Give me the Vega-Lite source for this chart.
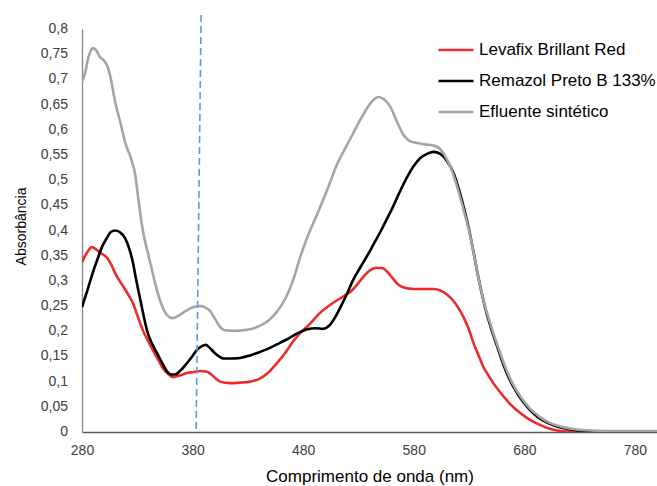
{
  "$schema": "https://vega.github.io/schema/vega-lite/v6.json",
  "width": 575,
  "height": 403,
  "autosize": "none",
  "padding": {"left": 82, "top": 29, "right": 0, "bottom": 54},
  "background": "white",
  "config": {"view": {"stroke": null}, "font": "Liberation Sans", "axis": {"labelOverlap": false}},
  "datasets": {
    "guide": [{"wl_top": 387.7, "wl_bottom": 383.2, "a_top": 0.828, "a_bottom": 0}],
    "ticksY": [{"v": 0}, {"v": 0.05}, {"v": 0.1}, {"v": 0.15}, {"v": 0.2}, {"v": 0.25}, {"v": 0.3}, {"v": 0.35}, {"v": 0.4}, {"v": 0.45}, {"v": 0.5}, {"v": 0.55}, {"v": 0.6}, {"v": 0.65}, {"v": 0.7}, {"v": 0.75}, {"v": 0.8}],
    "spectra": [
      {"serie": "Levafix Brillant Red", "wl": 280, "abs": 0.337},
      {"serie": "Levafix Brillant Red", "wl": 285, "abs": 0.358},
      {"serie": "Levafix Brillant Red", "wl": 289, "abs": 0.367},
      {"serie": "Levafix Brillant Red", "wl": 293, "abs": 0.362},
      {"serie": "Levafix Brillant Red", "wl": 297, "abs": 0.355},
      {"serie": "Levafix Brillant Red", "wl": 303, "abs": 0.345},
      {"serie": "Levafix Brillant Red", "wl": 307, "abs": 0.33},
      {"serie": "Levafix Brillant Red", "wl": 310, "abs": 0.315},
      {"serie": "Levafix Brillant Red", "wl": 317, "abs": 0.29},
      {"serie": "Levafix Brillant Red", "wl": 322, "abs": 0.272},
      {"serie": "Levafix Brillant Red", "wl": 326, "abs": 0.256},
      {"serie": "Levafix Brillant Red", "wl": 330, "abs": 0.232},
      {"serie": "Levafix Brillant Red", "wl": 335, "abs": 0.202},
      {"serie": "Levafix Brillant Red", "wl": 340, "abs": 0.18},
      {"serie": "Levafix Brillant Red", "wl": 344, "abs": 0.163},
      {"serie": "Levafix Brillant Red", "wl": 349, "abs": 0.143},
      {"serie": "Levafix Brillant Red", "wl": 353, "abs": 0.127},
      {"serie": "Levafix Brillant Red", "wl": 358, "abs": 0.115},
      {"serie": "Levafix Brillant Red", "wl": 362, "abs": 0.109},
      {"serie": "Levafix Brillant Red", "wl": 368, "abs": 0.112},
      {"serie": "Levafix Brillant Red", "wl": 375, "abs": 0.117},
      {"serie": "Levafix Brillant Red", "wl": 381, "abs": 0.119},
      {"serie": "Levafix Brillant Red", "wl": 387, "abs": 0.121},
      {"serie": "Levafix Brillant Red", "wl": 392, "abs": 0.12},
      {"serie": "Levafix Brillant Red", "wl": 396, "abs": 0.116},
      {"serie": "Levafix Brillant Red", "wl": 400, "abs": 0.108},
      {"serie": "Levafix Brillant Red", "wl": 405, "abs": 0.1},
      {"serie": "Levafix Brillant Red", "wl": 414, "abs": 0.097},
      {"serie": "Levafix Brillant Red", "wl": 423, "abs": 0.098},
      {"serie": "Levafix Brillant Red", "wl": 432, "abs": 0.1},
      {"serie": "Levafix Brillant Red", "wl": 440, "abs": 0.105},
      {"serie": "Levafix Brillant Red", "wl": 448, "abs": 0.117},
      {"serie": "Levafix Brillant Red", "wl": 456, "abs": 0.136},
      {"serie": "Levafix Brillant Red", "wl": 464, "abs": 0.158},
      {"serie": "Levafix Brillant Red", "wl": 471, "abs": 0.18},
      {"serie": "Levafix Brillant Red", "wl": 477, "abs": 0.196},
      {"serie": "Levafix Brillant Red", "wl": 484, "abs": 0.21},
      {"serie": "Levafix Brillant Red", "wl": 490, "abs": 0.224},
      {"serie": "Levafix Brillant Red", "wl": 495, "abs": 0.236},
      {"serie": "Levafix Brillant Red", "wl": 503, "abs": 0.25},
      {"serie": "Levafix Brillant Red", "wl": 511, "abs": 0.262},
      {"serie": "Levafix Brillant Red", "wl": 517, "abs": 0.27},
      {"serie": "Levafix Brillant Red", "wl": 523, "abs": 0.279},
      {"serie": "Levafix Brillant Red", "wl": 529, "abs": 0.293},
      {"serie": "Levafix Brillant Red", "wl": 534, "abs": 0.307},
      {"serie": "Levafix Brillant Red", "wl": 540, "abs": 0.32},
      {"serie": "Levafix Brillant Red", "wl": 546, "abs": 0.326},
      {"serie": "Levafix Brillant Red", "wl": 552, "abs": 0.325},
      {"serie": "Levafix Brillant Red", "wl": 556, "abs": 0.318},
      {"serie": "Levafix Brillant Red", "wl": 561, "abs": 0.305},
      {"serie": "Levafix Brillant Red", "wl": 566, "abs": 0.293},
      {"serie": "Levafix Brillant Red", "wl": 571, "abs": 0.287},
      {"serie": "Levafix Brillant Red", "wl": 580, "abs": 0.284},
      {"serie": "Levafix Brillant Red", "wl": 590, "abs": 0.284},
      {"serie": "Levafix Brillant Red", "wl": 598, "abs": 0.284},
      {"serie": "Levafix Brillant Red", "wl": 604, "abs": 0.281},
      {"serie": "Levafix Brillant Red", "wl": 610, "abs": 0.273},
      {"serie": "Levafix Brillant Red", "wl": 616, "abs": 0.26},
      {"serie": "Levafix Brillant Red", "wl": 621, "abs": 0.244},
      {"serie": "Levafix Brillant Red", "wl": 625, "abs": 0.228},
      {"serie": "Levafix Brillant Red", "wl": 630, "abs": 0.203},
      {"serie": "Levafix Brillant Red", "wl": 634, "abs": 0.177},
      {"serie": "Levafix Brillant Red", "wl": 639, "abs": 0.15},
      {"serie": "Levafix Brillant Red", "wl": 643, "abs": 0.129},
      {"serie": "Levafix Brillant Red", "wl": 648, "abs": 0.111},
      {"serie": "Levafix Brillant Red", "wl": 652, "abs": 0.097},
      {"serie": "Levafix Brillant Red", "wl": 660, "abs": 0.074},
      {"serie": "Levafix Brillant Red", "wl": 667, "abs": 0.056},
      {"serie": "Levafix Brillant Red", "wl": 675, "abs": 0.04},
      {"serie": "Levafix Brillant Red", "wl": 683, "abs": 0.027},
      {"serie": "Levafix Brillant Red", "wl": 692, "abs": 0.016},
      {"serie": "Levafix Brillant Red", "wl": 701, "abs": 0.008},
      {"serie": "Levafix Brillant Red", "wl": 710, "abs": 0.003},
      {"serie": "Levafix Brillant Red", "wl": 720, "abs": 0.001},
      {"serie": "Levafix Brillant Red", "wl": 740, "abs": 0.0005},
      {"serie": "Levafix Brillant Red", "wl": 800, "abs": 0},

      {"serie": "Remazol Preto B 133%", "wl": 280, "abs": 0.248},
      {"serie": "Remazol Preto B 133%", "wl": 285, "abs": 0.282},
      {"serie": "Remazol Preto B 133%", "wl": 290, "abs": 0.318},
      {"serie": "Remazol Preto B 133%", "wl": 294, "abs": 0.343},
      {"serie": "Remazol Preto B 133%", "wl": 298, "abs": 0.367},
      {"serie": "Remazol Preto B 133%", "wl": 303, "abs": 0.387},
      {"serie": "Remazol Preto B 133%", "wl": 306, "abs": 0.397},
      {"serie": "Remazol Preto B 133%", "wl": 310, "abs": 0.4},
      {"serie": "Remazol Preto B 133%", "wl": 314, "abs": 0.397},
      {"serie": "Remazol Preto B 133%", "wl": 319, "abs": 0.385},
      {"serie": "Remazol Preto B 133%", "wl": 323, "abs": 0.362},
      {"serie": "Remazol Preto B 133%", "wl": 326, "abs": 0.337},
      {"serie": "Remazol Preto B 133%", "wl": 329, "abs": 0.302},
      {"serie": "Remazol Preto B 133%", "wl": 332.5, "abs": 0.265},
      {"serie": "Remazol Preto B 133%", "wl": 336, "abs": 0.228},
      {"serie": "Remazol Preto B 133%", "wl": 339, "abs": 0.2},
      {"serie": "Remazol Preto B 133%", "wl": 343, "abs": 0.177},
      {"serie": "Remazol Preto B 133%", "wl": 348, "abs": 0.156},
      {"serie": "Remazol Preto B 133%", "wl": 353, "abs": 0.135},
      {"serie": "Remazol Preto B 133%", "wl": 357, "abs": 0.12},
      {"serie": "Remazol Preto B 133%", "wl": 361, "abs": 0.114},
      {"serie": "Remazol Preto B 133%", "wl": 364, "abs": 0.114},
      {"serie": "Remazol Preto B 133%", "wl": 369, "abs": 0.122},
      {"serie": "Remazol Preto B 133%", "wl": 375, "abs": 0.137},
      {"serie": "Remazol Preto B 133%", "wl": 380, "abs": 0.151},
      {"serie": "Remazol Preto B 133%", "wl": 384, "abs": 0.163},
      {"serie": "Remazol Preto B 133%", "wl": 388, "abs": 0.17},
      {"serie": "Remazol Preto B 133%", "wl": 392, "abs": 0.173},
      {"serie": "Remazol Preto B 133%", "wl": 395, "abs": 0.168},
      {"serie": "Remazol Preto B 133%", "wl": 400, "abs": 0.157},
      {"serie": "Remazol Preto B 133%", "wl": 404, "abs": 0.15},
      {"serie": "Remazol Preto B 133%", "wl": 408, "abs": 0.146},
      {"serie": "Remazol Preto B 133%", "wl": 415, "abs": 0.146},
      {"serie": "Remazol Preto B 133%", "wl": 423, "abs": 0.147},
      {"serie": "Remazol Preto B 133%", "wl": 432, "abs": 0.152},
      {"serie": "Remazol Preto B 133%", "wl": 441, "abs": 0.159},
      {"serie": "Remazol Preto B 133%", "wl": 450, "abs": 0.167},
      {"serie": "Remazol Preto B 133%", "wl": 459, "abs": 0.177},
      {"serie": "Remazol Preto B 133%", "wl": 467, "abs": 0.186},
      {"serie": "Remazol Preto B 133%", "wl": 475, "abs": 0.196},
      {"serie": "Remazol Preto B 133%", "wl": 484, "abs": 0.204},
      {"serie": "Remazol Preto B 133%", "wl": 491, "abs": 0.206},
      {"serie": "Remazol Preto B 133%", "wl": 498, "abs": 0.205},
      {"serie": "Remazol Preto B 133%", "wl": 504, "abs": 0.212},
      {"serie": "Remazol Preto B 133%", "wl": 509, "abs": 0.228},
      {"serie": "Remazol Preto B 133%", "wl": 514, "abs": 0.249},
      {"serie": "Remazol Preto B 133%", "wl": 520, "abs": 0.276},
      {"serie": "Remazol Preto B 133%", "wl": 525, "abs": 0.301},
      {"serie": "Remazol Preto B 133%", "wl": 532, "abs": 0.328},
      {"serie": "Remazol Preto B 133%", "wl": 538, "abs": 0.35},
      {"serie": "Remazol Preto B 133%", "wl": 543, "abs": 0.37},
      {"serie": "Remazol Preto B 133%", "wl": 550, "abs": 0.398},
      {"serie": "Remazol Preto B 133%", "wl": 556, "abs": 0.424},
      {"serie": "Remazol Preto B 133%", "wl": 561, "abs": 0.446},
      {"serie": "Remazol Preto B 133%", "wl": 567, "abs": 0.475},
      {"serie": "Remazol Preto B 133%", "wl": 574, "abs": 0.506},
      {"serie": "Remazol Preto B 133%", "wl": 580, "abs": 0.528},
      {"serie": "Remazol Preto B 133%", "wl": 586, "abs": 0.544},
      {"serie": "Remazol Preto B 133%", "wl": 592, "abs": 0.552},
      {"serie": "Remazol Preto B 133%", "wl": 598, "abs": 0.556},
      {"serie": "Remazol Preto B 133%", "wl": 604, "abs": 0.552},
      {"serie": "Remazol Preto B 133%", "wl": 610, "abs": 0.538},
      {"serie": "Remazol Preto B 133%", "wl": 616, "abs": 0.514},
      {"serie": "Remazol Preto B 133%", "wl": 620, "abs": 0.488},
      {"serie": "Remazol Preto B 133%", "wl": 625, "abs": 0.448},
      {"serie": "Remazol Preto B 133%", "wl": 630, "abs": 0.402},
      {"serie": "Remazol Preto B 133%", "wl": 634, "abs": 0.358},
      {"serie": "Remazol Preto B 133%", "wl": 638, "abs": 0.312},
      {"serie": "Remazol Preto B 133%", "wl": 642, "abs": 0.271},
      {"serie": "Remazol Preto B 133%", "wl": 646, "abs": 0.235},
      {"serie": "Remazol Preto B 133%", "wl": 651, "abs": 0.199},
      {"serie": "Remazol Preto B 133%", "wl": 656, "abs": 0.166},
      {"serie": "Remazol Preto B 133%", "wl": 661, "abs": 0.134},
      {"serie": "Remazol Preto B 133%", "wl": 667, "abs": 0.103},
      {"serie": "Remazol Preto B 133%", "wl": 675, "abs": 0.072},
      {"serie": "Remazol Preto B 133%", "wl": 683, "abs": 0.049},
      {"serie": "Remazol Preto B 133%", "wl": 692, "abs": 0.03},
      {"serie": "Remazol Preto B 133%", "wl": 701, "abs": 0.018},
      {"serie": "Remazol Preto B 133%", "wl": 711, "abs": 0.01},
      {"serie": "Remazol Preto B 133%", "wl": 722, "abs": 0.005},
      {"serie": "Remazol Preto B 133%", "wl": 737, "abs": 0.002},
      {"serie": "Remazol Preto B 133%", "wl": 760, "abs": 0.001},
      {"serie": "Remazol Preto B 133%", "wl": 800, "abs": 0.001},

      {"serie": "Efluente sintético", "wl": 280, "abs": 0.694},
      {"serie": "Efluente sintético", "wl": 283, "abs": 0.715},
      {"serie": "Efluente sintético", "wl": 286, "abs": 0.745},
      {"serie": "Efluente sintético", "wl": 290, "abs": 0.762},
      {"serie": "Efluente sintético", "wl": 293, "abs": 0.757},
      {"serie": "Efluente sintético", "wl": 296, "abs": 0.745},
      {"serie": "Efluente sintético", "wl": 300, "abs": 0.737},
      {"serie": "Efluente sintético", "wl": 303, "abs": 0.726},
      {"serie": "Efluente sintético", "wl": 306, "abs": 0.702},
      {"serie": "Efluente sintético", "wl": 310, "abs": 0.655},
      {"serie": "Efluente sintético", "wl": 315, "abs": 0.612},
      {"serie": "Efluente sintético", "wl": 319, "abs": 0.575},
      {"serie": "Efluente sintético", "wl": 324, "abs": 0.545},
      {"serie": "Efluente sintético", "wl": 328, "abs": 0.512},
      {"serie": "Efluente sintético", "wl": 331, "abs": 0.462},
      {"serie": "Efluente sintético", "wl": 335, "abs": 0.4},
      {"serie": "Efluente sintético", "wl": 340, "abs": 0.352},
      {"serie": "Efluente sintético", "wl": 344, "abs": 0.315},
      {"serie": "Efluente sintético", "wl": 349, "abs": 0.272},
      {"serie": "Efluente sintético", "wl": 355, "abs": 0.238},
      {"serie": "Efluente sintético", "wl": 359, "abs": 0.228},
      {"serie": "Efluente sintético", "wl": 362, "abs": 0.226},
      {"serie": "Efluente sintético", "wl": 368, "abs": 0.232},
      {"serie": "Efluente sintético", "wl": 375, "abs": 0.242},
      {"serie": "Efluente sintético", "wl": 381, "abs": 0.248},
      {"serie": "Efluente sintético", "wl": 387, "abs": 0.25},
      {"serie": "Efluente sintético", "wl": 391, "abs": 0.248},
      {"serie": "Efluente sintético", "wl": 396, "abs": 0.24},
      {"serie": "Efluente sintético", "wl": 401, "abs": 0.222},
      {"serie": "Efluente sintético", "wl": 405, "abs": 0.208},
      {"serie": "Efluente sintético", "wl": 409, "abs": 0.202},
      {"serie": "Efluente sintético", "wl": 418, "abs": 0.201},
      {"serie": "Efluente sintético", "wl": 426, "abs": 0.202},
      {"serie": "Efluente sintético", "wl": 434, "abs": 0.205},
      {"serie": "Efluente sintético", "wl": 441, "abs": 0.211},
      {"serie": "Efluente sintético", "wl": 449, "abs": 0.222},
      {"serie": "Efluente sintético", "wl": 456, "abs": 0.238},
      {"serie": "Efluente sintético", "wl": 464, "abs": 0.265},
      {"serie": "Efluente sintético", "wl": 471, "abs": 0.302},
      {"serie": "Efluente sintético", "wl": 477, "abs": 0.345},
      {"serie": "Efluente sintético", "wl": 484, "abs": 0.388},
      {"serie": "Efluente sintético", "wl": 493, "abs": 0.434},
      {"serie": "Efluente sintético", "wl": 502, "abs": 0.482},
      {"serie": "Efluente sintético", "wl": 511, "abs": 0.533},
      {"serie": "Efluente sintético", "wl": 518, "abs": 0.563},
      {"serie": "Efluente sintético", "wl": 525, "abs": 0.592},
      {"serie": "Efluente sintético", "wl": 533, "abs": 0.625},
      {"serie": "Efluente sintético", "wl": 541, "abs": 0.653},
      {"serie": "Efluente sintético", "wl": 548, "abs": 0.665},
      {"serie": "Efluente sintético", "wl": 552, "abs": 0.662},
      {"serie": "Efluente sintético", "wl": 559, "abs": 0.645},
      {"serie": "Efluente sintético", "wl": 565, "abs": 0.615},
      {"serie": "Efluente sintético", "wl": 571, "abs": 0.589},
      {"serie": "Efluente sintético", "wl": 576, "abs": 0.578},
      {"serie": "Efluente sintético", "wl": 580, "abs": 0.575},
      {"serie": "Efluente sintético", "wl": 590, "abs": 0.571},
      {"serie": "Efluente sintético", "wl": 597, "abs": 0.569},
      {"serie": "Efluente sintético", "wl": 602, "abs": 0.565},
      {"serie": "Efluente sintético", "wl": 607, "abs": 0.553},
      {"serie": "Efluente sintético", "wl": 613, "abs": 0.527},
      {"serie": "Efluente sintético", "wl": 618, "abs": 0.496},
      {"serie": "Efluente sintético", "wl": 622, "abs": 0.466},
      {"serie": "Efluente sintético", "wl": 627, "abs": 0.425},
      {"serie": "Efluente sintético", "wl": 631.5, "abs": 0.385},
      {"serie": "Efluente sintético", "wl": 635.5, "abs": 0.34},
      {"serie": "Efluente sintético", "wl": 639.5, "abs": 0.296},
      {"serie": "Efluente sintético", "wl": 643.5, "abs": 0.258},
      {"serie": "Efluente sintético", "wl": 648, "abs": 0.224},
      {"serie": "Efluente sintético", "wl": 653, "abs": 0.19},
      {"serie": "Efluente sintético", "wl": 658, "abs": 0.158},
      {"serie": "Efluente sintético", "wl": 663, "abs": 0.128},
      {"serie": "Efluente sintético", "wl": 669, "abs": 0.098},
      {"serie": "Efluente sintético", "wl": 677, "abs": 0.069},
      {"serie": "Efluente sintético", "wl": 685, "abs": 0.047},
      {"serie": "Efluente sintético", "wl": 694, "abs": 0.03},
      {"serie": "Efluente sintético", "wl": 703, "abs": 0.018},
      {"serie": "Efluente sintético", "wl": 713, "abs": 0.011},
      {"serie": "Efluente sintético", "wl": 724, "abs": 0.006},
      {"serie": "Efluente sintético", "wl": 740, "abs": 0.003},
      {"serie": "Efluente sintético", "wl": 765, "abs": 0.002},
      {"serie": "Efluente sintético", "wl": 800, "abs": 0.002}
    ]
  },
  "layer": [
    {
      "data": {"name": "spectra"},
      "mark": {"type": "line", "interpolate": "monotone", "strokeWidth": 2.6, "clip": true},
      "encoding": {
        "x": {
          "field": "wl", "type": "quantitative",
          "scale": {"domain": [280, 800], "nice": false, "zero": false},
          "axis": {
            "title": "Comprimento de onda (nm)",
            "values": [280, 380, 480, 580, 680, 780],
            "grid": false, "ticks": false,
            "domainColor": "#595959", "domainWidth": 1.3,
            "labelFont": "Liberation Sans", "labelFontSize": 14, "labelColor": "#404040",
            "labelPadding": 11, "labelFlush": false, "labelOverlap": false,
            "titleFont": "Liberation Sans", "titleFontSize": 17, "titleFontWeight": "normal",
            "titleColor": "#000000", "titlePadding": 11
          }
        },
        "y": {
          "field": "abs", "type": "quantitative",
          "scale": {"domain": [0, 0.8], "nice": false},
          "axis": {
            "title": "Absorbância",
            "values": [0, 0.05, 0.1, 0.15, 0.2, 0.25, 0.3, 0.35, 0.4, 0.45, 0.5, 0.55, 0.6, 0.65, 0.7, 0.75, 0.8],
            "labels": false,
            "grid": false, "ticks": false,
            "domainColor": "#868686", "domainWidth": 1.3,
            "titleFont": "Liberation Sans", "titleFontSize": 14, "titleFontWeight": "normal",
            "titleColor": "#000000", "titlePadding": 54, "titleY": 197
          }
        },
        "color": {
          "field": "serie", "type": "nominal",
          "scale": {
            "domain": ["Levafix Brillant Red", "Remazol Preto B 133%", "Efluente sintético"],
            "range": ["#ee2a2a", "#000000", "#a5a5a5"]
          },
          "legend": {
            "title": null,
            "orient": "none",
            "legendX": 355,
            "legendY": 2,
            "symbolType": "stroke",
            "symbolSize": 1225,
            "symbolStrokeWidth": 2.6,
            "labelFont": "Liberation Sans",
            "labelFontSize": 17,
            "labelColor": "#000000",
            "labelOffset": 4,
            "rowPadding": 4,
            "labelLimit": 400
          }
        }
      }
    },
    {
      "data": {"name": "ticksY"},
      "mark": {"type": "text", "align": "right", "baseline": "middle", "dx": -14, "font": "Liberation Sans", "fontSize": 14, "color": "#404040", "clip": false},
      "encoding": {
        "y": {"field": "v", "type": "quantitative"},
        "x": {"datum": 280},
        "text": {"field": "lbl"}
      },
      "transform": [{"calculate": "replace(format(datum.v, '.2~f'), '.', ',')", "as": "lbl"}]
    },
    {
      "data": {"name": "guide"},
      "mark": {"type": "rule", "color": "#5b9bd5", "strokeWidth": 1.6, "strokeDash": [7, 4]},
      "encoding": {
        "x": {"field": "wl_top", "type": "quantitative"},
        "x2": {"field": "wl_bottom"},
        "y": {"field": "a_top", "type": "quantitative"},
        "y2": {"field": "a_bottom"}
      }
    }
  ]
}
